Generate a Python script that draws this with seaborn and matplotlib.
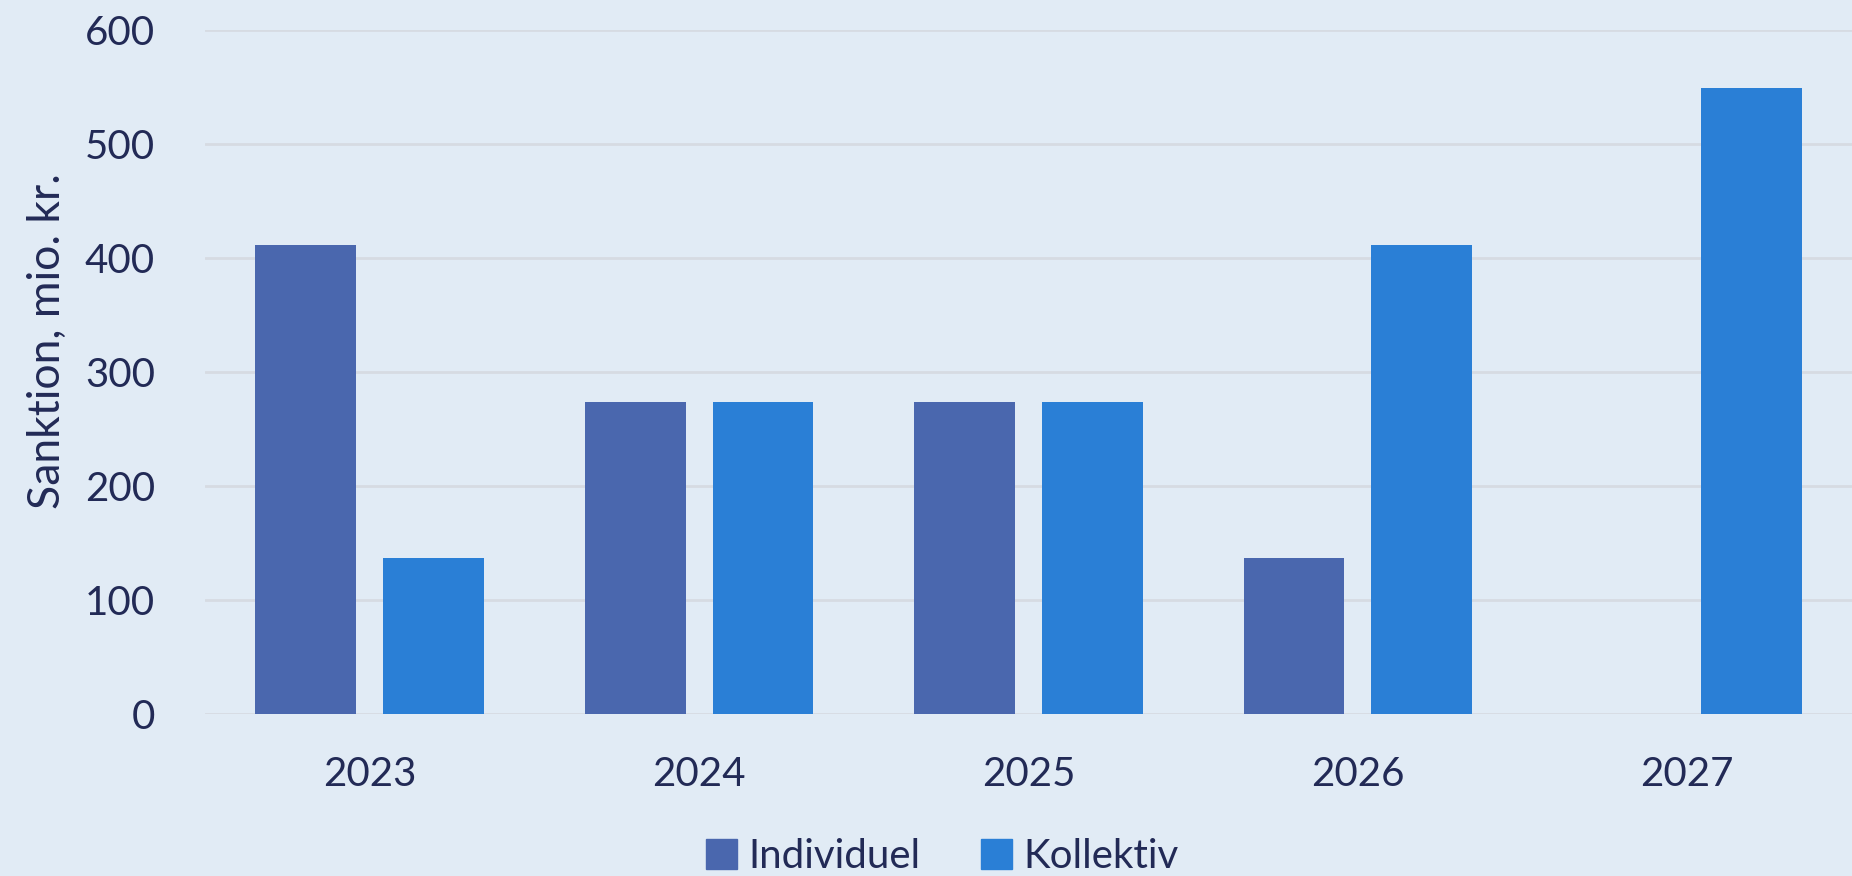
import pandas as pd
import matplotlib.pyplot as plt
import seaborn as sns

years = ['2023', '2024', '2025', '2026', '2027']
individuel = [411, 274, 274, 137, 0]
kollektiv = [137, 274, 274, 411, 549]
series = ['Individuel', 'Kollektiv']
colors = ['#4a67ae', '#2a7fd6']
yticks = [0, 100, 200, 300, 400, 500, 600]

df = pd.DataFrame({'År': years * 2,
                   'Værdi': individuel + kollektiv,
                   'Type': [series[0]] * 5 + [series[1]] * 5})

bg = '#e1ebf5'
txt = '#222a56'

sns.set_theme(style='white')
plt.rcParams['font.family'] = ['Lato', 'DejaVu Sans']

fig = plt.figure(figsize=(18.52, 8.76), dpi=100, facecolor=bg)
ax = fig.add_axes([0.1107, 0.185, 0.8893, 0.7808])
ax.set_facecolor(bg)

sns.barplot(data=df, x='År', y='Værdi', hue='Type', hue_order=series,
            palette=colors, saturation=1, width=0.776, gap=0.21, ax=ax,
            linewidth=0, zorder=3, legend=False)

ax.set_ylim(0, 600)
ax.set_xlim(-0.5, 4.5)
ax.set_yticks(yticks)
ax.yaxis.grid(True, color='#d6dbe2', linewidth=2, zorder=0)
ax.set_axisbelow(True)
for s in ax.spines.values():
    s.set_visible(False)
ax.tick_params(axis='both', length=0, labelsize=29, labelcolor=txt)
ax.tick_params(axis='y', pad=36)
ax.tick_params(axis='x', pad=30)
ax.set_xlabel('')
ax.set_ylabel('Sanktion, mio. kr.', fontsize=32, color=txt, labelpad=19)
ax.yaxis.set_label_coords(-0.083, 0.545)

handles = [plt.Rectangle((0, 0), 1, 1, color=c) for c in colors]
fig.legend(handles, series, loc='center', bbox_to_anchor=(0.509, 0.022),
           ncol=2, frameon=False, fontsize=29, labelcolor=txt,
           handlelength=0.75, handleheight=0.75, handletextpad=0.3,
           columnspacing=1.5)

fig.savefig('out.png', dpi=100, facecolor=bg)
